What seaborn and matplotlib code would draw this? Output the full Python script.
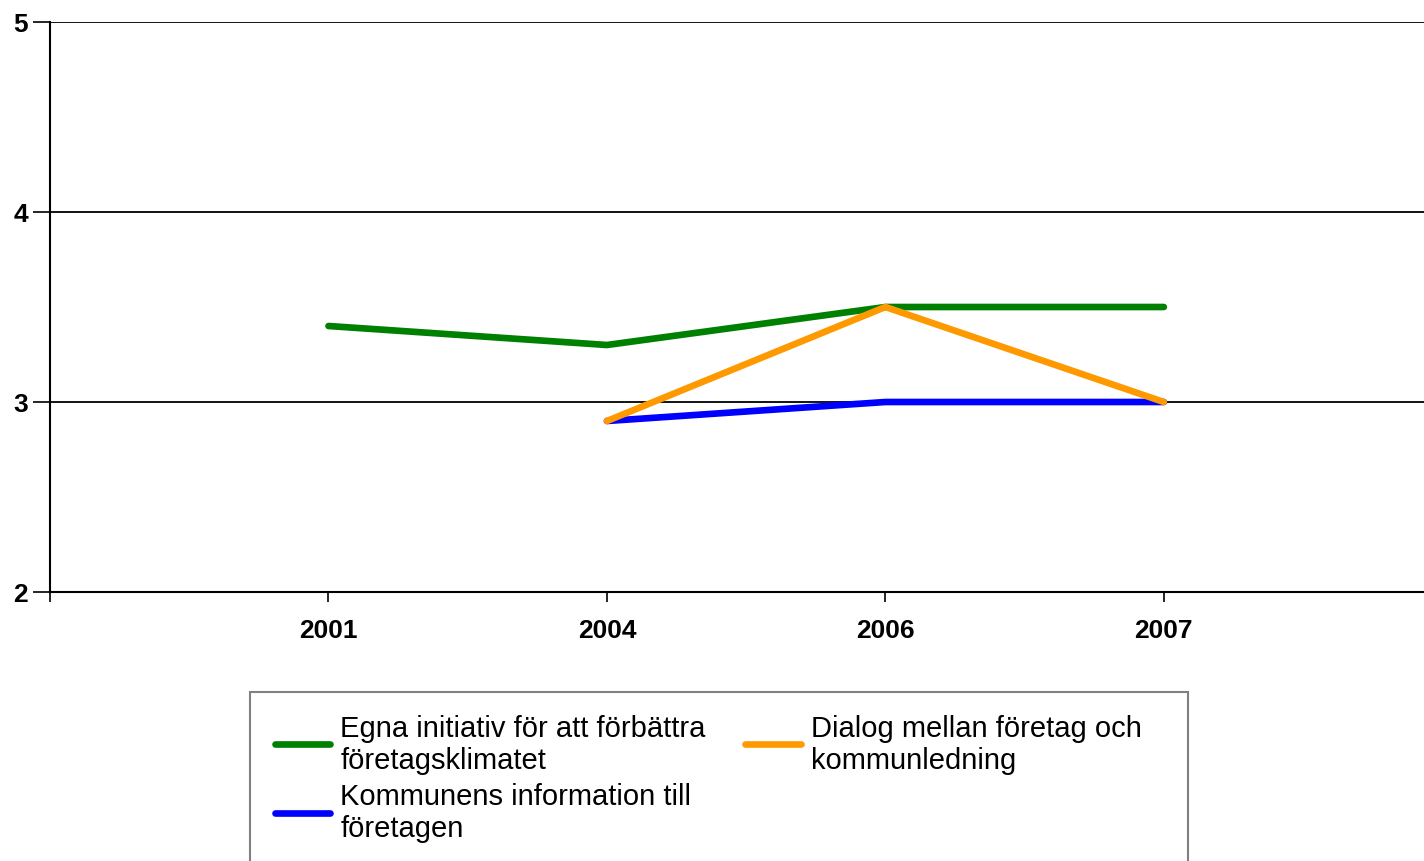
import matplotlib
matplotlib.use("Agg")
import matplotlib.pyplot as plt
from matplotlib.patches import Rectangle
import seaborn as sns
import pandas as pd
import numpy as np

years = ["2001", "2004", "2006", "2007"]
egna = [3.4, 3.3, 3.5, 3.5]
kommunens = [np.nan, 2.9, 3.0, 3.0]
dialog = [np.nan, 2.9, 3.5, 3.0]

series_names = [
    "Egna initiativ för att förbättra\nföretagsklimatet",
    "Kommunens information till\nföretagen",
    "Dialog mellan företag och\nkommunledning",
]
colors = ["#008000", "#0000FF", "#FF9900"]

rows = []
for name, vals in zip(series_names, [egna, kommunens, dialog]):
    for i, (y, v) in enumerate(zip(years, vals)):
        rows.append({"idx": i, "year": y, "value": v, "series": name})
df = pd.DataFrame(rows).dropna()

sns.set_theme(style="white")
plt.rcParams["font.family"] = ["Liberation Sans", "DejaVu Sans"]
plt.rcParams["text.color"] = "black"

W, H = 1424, 862
fig = plt.figure(figsize=(W / 100, H / 100), dpi=100)
ax = fig.add_axes([50 / W, 1 - 593 / H, 1 - 50 / W, (593 - 23) / H])

sns.lineplot(data=df, x="idx", y="value", hue="series", hue_order=series_names,
             palette=colors, linewidth=4.8, ax=ax, legend=True, sort=True)

ax.set_ylim(2, 5)
ax.set_xlim(-1, 3 + (1424 - 1164) / 278.3)
ax.set_yticks([2, 3, 4, 5])
ax.set_yticklabels(["2", "3", "4", "5"], fontsize=19, fontweight="bold")
ax.set_xticks(range(len(years)))
ax.set_xticklabels(years, fontsize=19, fontweight="bold")
ax.set_xticks([-1], minor=True)
ax.tick_params(axis="x", which="both", direction="out", length=7, width=1.2, color="black",
               labelcolor="black", pad=12, bottom=True)
ax.tick_params(axis="y", direction="out", length=12, width=1.2, color="black",
               labelcolor="black", pad=4, left=True)
ax.set_xlabel("")
ax.set_ylabel("")

for yv in [3, 4, 5]:
    ax.axhline(yv, color="black", linewidth=1.3, zorder=0.5)

for s in ["left", "bottom"]:
    ax.spines[s].set_visible(True)
    ax.spines[s].set_color("black")
    ax.spines[s].set_linewidth(1.5)
ax.spines["right"].set_visible(False)
ax.spines["top"].set_visible(False)

handles, labels = ax.get_legend_handles_labels()
ax.get_legend().remove()
leg = fig.legend(handles, labels, loc="upper left",
                 bbox_to_anchor=(250 / W, 1 - 690 / H), bbox_transform=fig.transFigure,
                 ncol=2, fontsize=21, frameon=False, borderaxespad=0,
                 handlelength=1.9, handletextpad=0.35, columnspacing=1.35,
                 borderpad=0.85, labelspacing=0.3)
for line in leg.get_lines():
    line.set_linewidth(4.8)
for t in leg.get_texts():
    t.set_linespacing(1.17)
    t.set_color("black")

# legend frame (extends past the bottom edge of the figure, as in the reference)
fig.patches.append(Rectangle((250 / W, -0.05), (1188 - 250) / W, (1 - 693 / H) + 0.05,
                             transform=fig.transFigure, fill=False,
                             edgecolor="#808080", linewidth=1.5))

fig.savefig("out.png", dpi=100)
